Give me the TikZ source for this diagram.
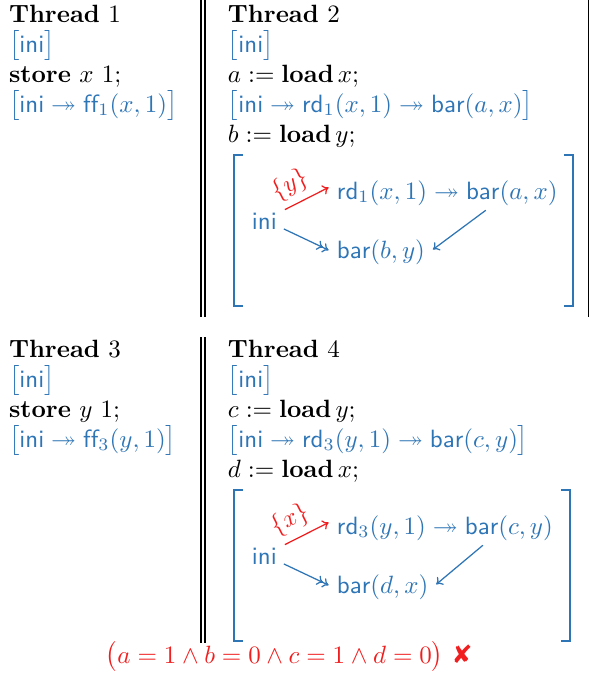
\documentclass[tikz,border=0pt]{standalone}
\usepackage{amsmath,amssymb}
\usepackage{fontspec}
\newfontfamily\dejavu{DejaVu Sans}
\usetikzlibrary{arrows.meta,calc}
\definecolor{cblue}{RGB}{46,117,182}
\definecolor{cred}{RGB}{240,30,30}
\begin{document}
\begin{tikzpicture}[x=0.4pt,y=-0.4pt,
  txt/.style={anchor=base west, inner sep=0pt, outer sep=0pt},
  bl/.style={txt, text=cblue},
  tn/.style={anchor=base west, inner sep=2pt, outer sep=0pt, text=cblue},
  conn/.style={draw=cblue, line width=0.5pt, >={To[length=2.4pt,width=4pt]}},
  rconn/.style={conn, draw=cred},
  lbl/.style={sloped, above, pos=0.3, inner sep=2.5pt, text=cred},
  rulev/.style={line width=0.75pt},
  brk/.style={draw=cblue, line width=0.8pt}
]
\useasboundingbox (0,0) rectangle (589,676);

% separators
\draw[rulev] (201,0) -- (201,317);
\draw[rulev] (205,0) -- (205,317);
\draw[rulev] (201,337) -- (201,643);
\draw[rulev] (205,337) -- (205,643);
\draw[line width=0.4pt] (588.5,0) -- (588.5,317);

% ---- Thread 1
\node[txt] (t1) at (9,22) {\textbf{Thread} $1$};
\node[bl] (t1a) at (9,52) {$\bigl[\mathsf{ini}\bigr]$};
\node[txt] (t1b) at (9,82) {$\textbf{store}\ x\ 1;$};
\node[bl] (t1c) at (9,112) {$\bigl[\mathsf{ini}\twoheadrightarrow\mathsf{ff}_1(x,1)\bigr]$};

% ---- Thread 2
\node[txt] (t2) at (228,22) {\textbf{Thread} $2$};
\node[bl] (t2a) at (228,52) {$\bigl[\mathsf{ini}\bigr]$};
\node[txt] (t2b) at (228,82) {$a := \textbf{load}\,x;$};
\node[bl] (t2c) at (228,112) {$\bigl[\mathsf{ini}\twoheadrightarrow\mathsf{rd}_1(x,1)\twoheadrightarrow\mathsf{bar}(a,x)\bigr]$};
\node[txt] (t2d) at (228,142) {$b := \textbf{load}\,y;$};

\draw[brk] (243,155) -- (234,155) -- (234,306) -- (243,306);
\draw[brk] (564,155) -- (573,155) -- (573,306) -- (564,306);

\node[tn] (iniA) at (247,229) {$\mathsf{ini}$};
\node[tn] (rdA) at (332,199) {$\mathsf{rd}_1(x,1)$};
\node[tn, inner sep=0pt] (tA) at ($(rdA.base east)+(2,0)$) {$\twoheadrightarrow$};
\node[tn] (barA) at ($(tA.base east)+(2,0)$) {$\mathsf{bar}(a,x)$};
\node[tn] (barB) at (332,258) {$\mathsf{bar}(b,y)$};

\draw[rconn,->,shorten >=1.5pt] ([shift={(3,2)}]iniA.north east) -- node[lbl] (lA) {$\{y\}$} (rdA.172);
\draw[conn,->>,shorten >=1.5pt] ([shift={(2,0)}]iniA.-25) -- (barB.west);
\draw[conn,->,shorten >=1.5pt] ([shift={(-26,0)}]barA.south) -- (barB.east);

% ---- Thread 3
\node[txt] (t3) at (9,357) {\textbf{Thread} $3$};
\node[bl] (t3a) at (9,387) {$\bigl[\mathsf{ini}\bigr]$};
\node[txt] (t3b) at (9,417) {$\textbf{store}\ y\ 1;$};
\node[bl] (t3c) at (9,447) {$\bigl[\mathsf{ini}\twoheadrightarrow\mathsf{ff}_3(y,1)\bigr]$};

% ---- Thread 4
\node[txt] (t4) at (228,357) {\textbf{Thread} $4$};
\node[bl] (t4a) at (228,387) {$\bigl[\mathsf{ini}\bigr]$};
\node[txt] (t4b) at (228,417) {$c := \textbf{load}\,y;$};
\node[bl] (t4c) at (228,447) {$\bigl[\mathsf{ini}\twoheadrightarrow\mathsf{rd}_3(y,1)\twoheadrightarrow\mathsf{bar}(c,y)\bigr]$};
\node[txt] (t4d) at (228,477) {$d := \textbf{load}\,x;$};

\draw[brk] (243,490) -- (234,490) -- (234,641) -- (243,641);
\draw[brk] (561,490) -- (570,490) -- (570,641) -- (561,641);

\node[tn] (iniB) at (247,564) {$\mathsf{ini}$};
\node[tn] (rdB) at (332,534) {$\mathsf{rd}_3(y,1)$};
\node[tn, inner sep=0pt] (tB) at ($(rdB.base east)+(2,0)$) {$\twoheadrightarrow$};
\node[tn] (barC) at ($(tB.base east)+(2,0)$) {$\mathsf{bar}(c,y)$};
\node[tn] (barD) at (332,593) {$\mathsf{bar}(d,x)$};

\draw[rconn,->,shorten >=1.5pt] ([shift={(3,2)}]iniB.north east) -- node[lbl] (lB) {$\{x\}$} (rdB.172);
\draw[conn,->>,shorten >=1.5pt] ([shift={(2,0)}]iniB.-25) -- (barD.west);
\draw[conn,->,shorten >=1.5pt] ([shift={(-26,0)}]barC.south) -- (barD.east);

% ---- result
\node[txt, text=cred] (res) at (106,663) {$\bigl(a=1\wedge b=0\wedge c=1\wedge d=0\bigr)$\ {\dejavu ✘}};
\end{tikzpicture}
\end{document}
